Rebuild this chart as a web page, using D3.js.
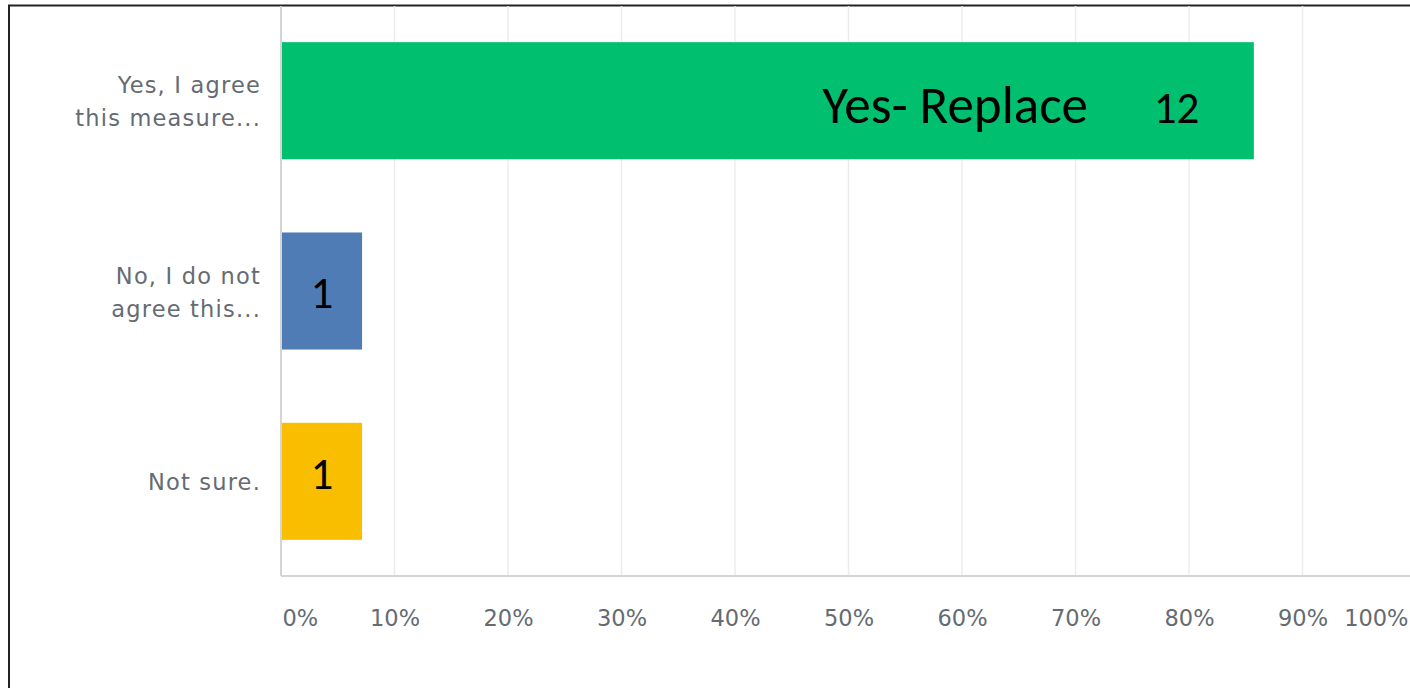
<!DOCTYPE html>
<html>
<head>
<meta charset="utf-8">
<script src="https://cdn.jsdelivr.net/npm/d3@7"></script>
<style>
  body { margin: 0; background: #fff; }
  svg { display: block; }
</style>
</head>
<body>
<svg id="chart"></svg>
<script>
// survey answers, counts out of 14 responses
var categories = ["Yes, I agree this measure...", "No, I do not agree this...", "Not sure."];
var labelLines = [["Yes, I agree", "this measure..."], ["No, I do not", "agree this..."], ["Not sure."]];
var counts = [12, 1, 1];
var total = 14;
var barNotes = ["Yes- Replace", "", ""];
var colors = ["#00bf6f", "#507cb6", "#f9be00"];
var ticks = [0, 0.1, 0.2, 0.3, 0.4, 0.5, 0.6, 0.7, 0.8, 0.9, 1];

var width = 1410;
var height = 688;
var margin = { top: 5, left: 281, bottom: 112 };
var grayFont = "'DejaVu Sans', sans-serif";
var grayText = "#656b72";

var svg = d3.select("#chart")
  .attr("width", width)
  .attr("height", height);

// the slide frame (left + top edges visible)
svg.append("path")
  .attr("d", "M9,688 V5.5 H1410")
  .attr("fill", "none")
  .attr("stroke", "#222")
  .attr("stroke-width", 2);

var x = d3.scaleLinear()
  .domain([0, 1])
  .range([margin.left, 1416]);

var y = d3.scaleBand()
  .domain(categories)
  .range([margin.top + 1, height - margin.bottom])
  .paddingInner(0.385)
  .paddingOuter(0.19);

// grid lines
svg.append("g")
  .selectAll("line")
  .data(ticks.slice(1))
  .enter().append("line")
    .attr("x1", d => x(d)).attr("x2", d => x(d))
    .attr("y1", 6).attr("y2", height - margin.bottom)
    .attr("stroke", "#ececec")
    .attr("stroke-width", 1.5);

// bars
svg.append("g")
  .selectAll("rect")
  .data(categories)
  .enter().append("rect")
    .attr("x", x(0))
    .attr("y", d => y(d))
    .attr("height", y.bandwidth())
    .attr("width", (d, i) => x(counts[i] / total) - x(0))
    .attr("fill", (d, i) => colors[i]);

// axis lines
svg.append("line")
  .attr("x1", x(0)).attr("x2", width)
  .attr("y1", height - margin.bottom).attr("y2", height - margin.bottom)
  .attr("stroke", "#d4d4d4").attr("stroke-width", 2);
svg.append("line")
  .attr("x1", x(0)).attr("x2", x(0))
  .attr("y1", 6).attr("y2", height - margin.bottom)
  .attr("stroke", "#d4d4d4").attr("stroke-width", 2);

// x tick labels
var xAxis = d3.axisBottom(x)
  .tickValues(ticks)
  .tickFormat(d3.format(".0%"))
  .tickSize(0)
  .tickPadding(34);

var gx = svg.append("g")
  .attr("transform", `translate(0,${height - margin.bottom})`)
  .call(xAxis);
gx.select(".domain").remove();
gx.selectAll("text")
  .attr("font-family", grayFont)
  .attr("font-size", 22.5)
  .attr("fill", grayText);
gx.selectAll(".tick").filter(d => d === 0).select("text").attr("text-anchor", "start").attr("dx", 1);
gx.selectAll(".tick").filter(d => d === 1).select("text").attr("text-anchor", "end").attr("dx", -8);

// category labels
var cat = svg.append("g").selectAll("text")
  .data(categories)
  .enter().append("text")
    .attr("text-anchor", "end")
    .attr("font-family", grayFont)
    .attr("font-size", 22.5)
    .attr("letter-spacing", 1.2)
    .attr("fill", grayText);
cat.each(function(d, i) {
  var lines = labelLines[i];
  var mid = y(d) + y.bandwidth() / 2;
  var t = d3.select(this);
  lines.forEach((ln, j) => {
    t.append("tspan")
      .attr("x", 261)
      .attr("y", mid + (j - (lines.length - 1) / 2) * 33 + 9)
      .text(ln);
  });
});

// value labels in the bars (placed by hand on the slide, so offsets differ a bit)
var valueDy = [22.5, 16.5, 8];
svg.append("g").selectAll("text")
  .data(categories)
  .enter().append("text")
    .attr("x", (d, i) => i === 0 ? 1176.5 : 322)
    .attr("y", (d, i) => y(d) + y.bandwidth() / 2 + valueDy[i])
    .attr("text-anchor", "middle")
    .attr("font-family", "Carlito, 'Open Sans', sans-serif")
    .attr("font-size", 45)
    .attr("fill", "#000")
    .text((d, i) => counts[i]);

svg.append("g").selectAll("text")
  .data(categories.filter((d, i) => barNotes[i]))
  .enter().append("text")
    .attr("x", 1088)
    .attr("y", d => y(d) + y.bandwidth() / 2 + 22.5)
    .attr("text-anchor", "end")
    .attr("font-family", "Carlito, 'Open Sans', sans-serif")
    .attr("font-size", 53)
    .attr("fill", "#000")
    .text(d => barNotes[categories.indexOf(d)]);
</script>
</body>
</html>
